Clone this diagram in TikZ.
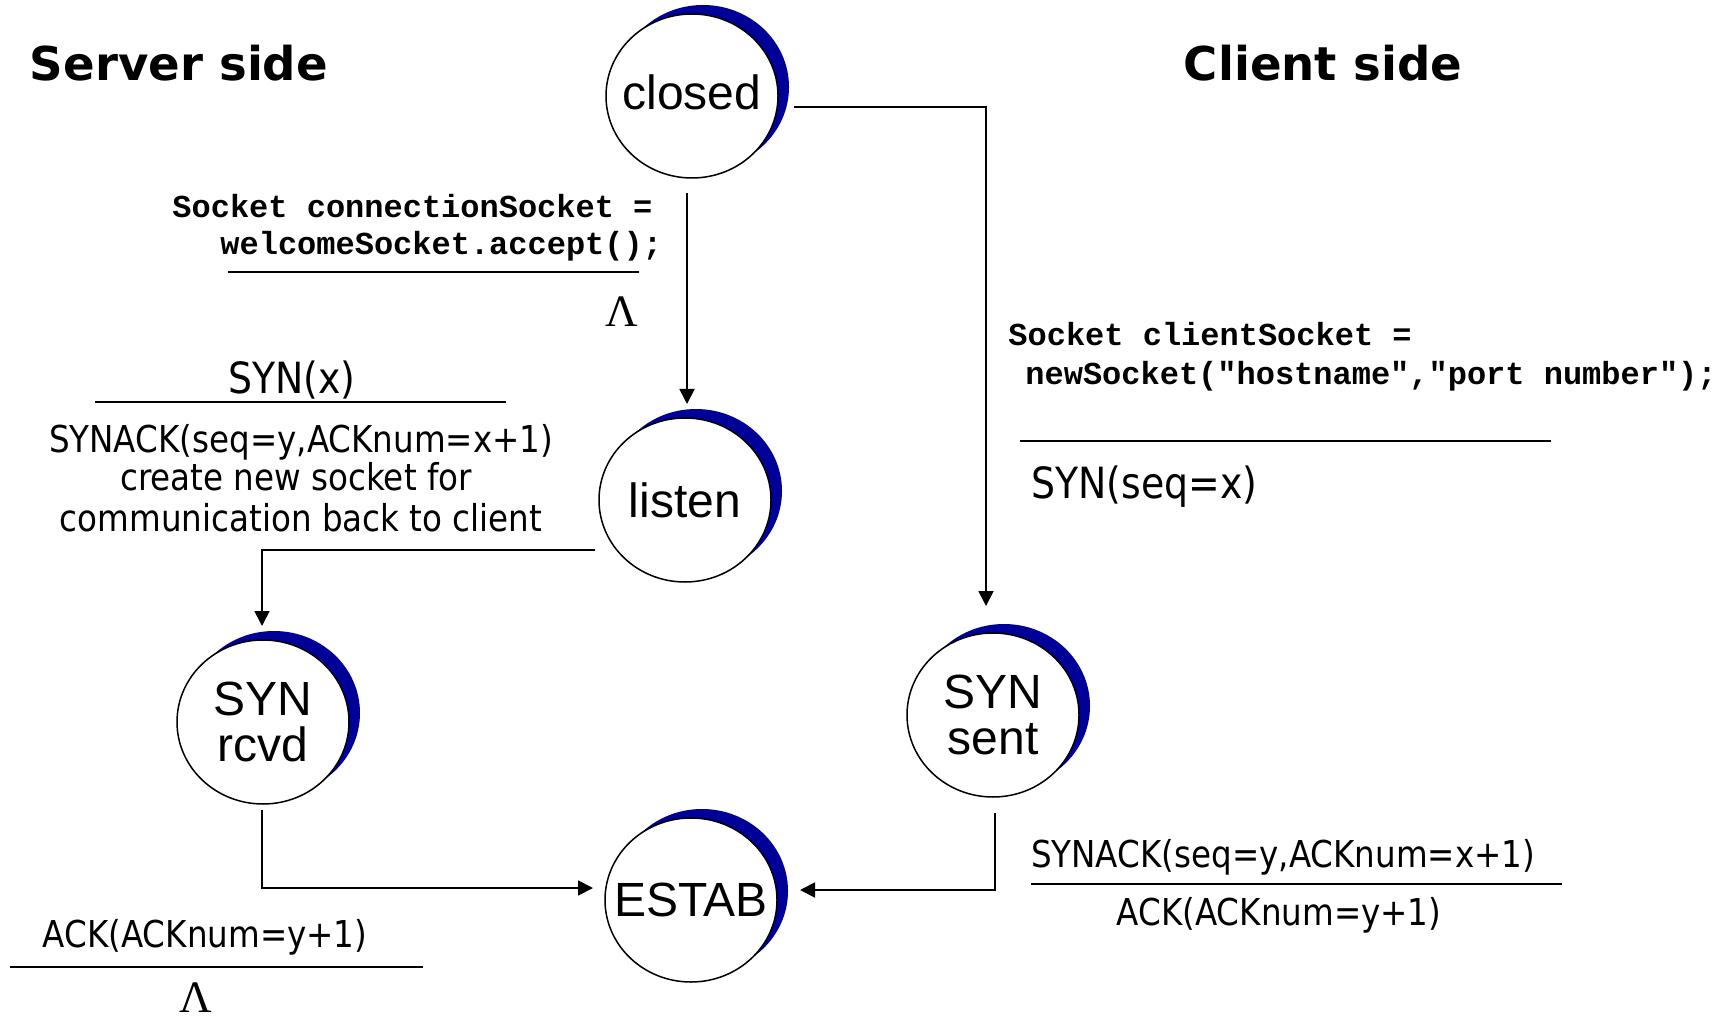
\documentclass[tikz,border=0pt]{standalone}
\usepackage{fontspec}
\setmainfont{DejaVu Sans}
\newfontfamily\lblfont[FakeStretch=0.88]{DejaVu Sans}
\newfontfamily\titlefont{DejaVu Sans}
\newfontfamily\circfont{Liberation Sans}
\newfontfamily\codefont{Liberation Mono}
\newfontfamily\lamfont{Liberation Serif}
\usetikzlibrary{arrows.meta,shapes.geometric,shadows}
\definecolor{shadowblue}{RGB}{0,0,153}
\begin{document}
\begin{tikzpicture}[x=0.5pt,y=-0.5pt,
  state/.style={ellipse, draw=black, line width=0.75pt, fill=white,
    minimum width=86pt, minimum height=82pt, inner xsep=-11pt, inner ysep=0pt, align=center,
    font=\circfont\fontsize{24}{23}\selectfont,
    drop shadow={shadow xshift=5.5pt, shadow yshift=4.5pt, fill=shadowblue, opacity=1}},
  arr/.style={-{Triangle[length=7.5pt,width=7.5pt]}, line width=0.9pt},
  code/.style={font=\codefont\bfseries\fontsize{16}{18}\selectfont, inner sep=0pt, anchor=base west},
  lbl/.style={font=\lblfont\fontsize{18.5}{20}\selectfont, inner sep=0pt, anchor=base},
  biglbl/.style={lbl, font=\lblfont\fontsize{21.5}{24}\selectfont},
  ttl/.style={font=\titlefont\bfseries\fontsize{23.3}{28}\selectfont, inner sep=0pt},
  sep/.style={line width=0.75pt},
  lam/.style={font=\lamfont\fontsize{22.5}{24}\selectfont, inner sep=0pt, anchor=base}
]
\useasboundingbox[fill=white] (0,0) rectangle (1727,1020);

% titles
\node[ttl] (server) at (179,63) {Server side};
\node[ttl] (client) at (1323,63) {Client side};

% states
\node[state] (closed) at (692,96) {closed\rule[-4pt]{0pt}{1pt}};
\node[state] (listen) at (685,500) {listen};
\node[state] (synrcvd) at (263,722) {SYN\\rcvd};
\node[state] (synsent) at (993,715) {SYN\\sent};
\node[state] (estab) at (691,900) {ESTAB};

% connectors
\draw[arr] ([shift={(102,11)}]closed.center) -| ([shift={(-7,-109)}]synsent.center);
\draw[arr] ([shift={(-5,97)}]closed.center) -- ([shift={(2,-96)}]listen.center);
\draw[arr] ([shift={(-90,50)}]listen.center) -| ([shift={(-1,-96)}]synrcvd.center);
\draw[arr] ([shift={(-1,88)}]synrcvd.center) |- ([shift={(-98,-12)}]estab.center);
\draw[arr] ([shift={(2,98)}]synsent.center) |- ([shift={(109,-10)}]estab.center);

% server-side labels
\node[code] (srvcode1) at (172,218) {Socket connectionSocket =};
\node[code] (srvcode2) at (220,255) {welcomeSocket.accept();};
\draw[sep] (228,272) -- (639,272);
\node[lam] (lam1) at (622,327) {Λ};

\node[biglbl] (synx) at (292,394) {SYN(x)};
\draw[sep] (95,402) -- (506,402);
\node[lbl] (synack1) at (301,453) {SYNACK(seq=y,ACKnum=x+1)};
\node[lbl] (create) at (296,491) {create new socket for};
\node[lbl] (comm) at (301,531) {communication back to client};

\node[lbl] (ack1) at (205,947) {ACK(ACKnum=y+1)};
\draw[sep] (10,967) -- (423,967);
\node[lam] (lam2) at (196,1012) {Λ};

% client-side labels
\node[code] (clicode1) at (1008,346) {Socket clientSocket =};
\node[code] (clicode2) at (1025,385) {newSocket("hostname","port number");};
\draw[sep] (1020,441) -- (1551,441);
\node[biglbl, anchor=base west] (synseq) at (1031,499) {SYN(seq=x)};

\node[lbl] (synack2) at (1283,867) {SYNACK(seq=y,ACKnum=x+1)};
\draw[sep] (1031,884) -- (1562,884);
\node[lbl] (ack2) at (1279,925) {ACK(ACKnum=y+1)};
\end{tikzpicture}
\end{document}
